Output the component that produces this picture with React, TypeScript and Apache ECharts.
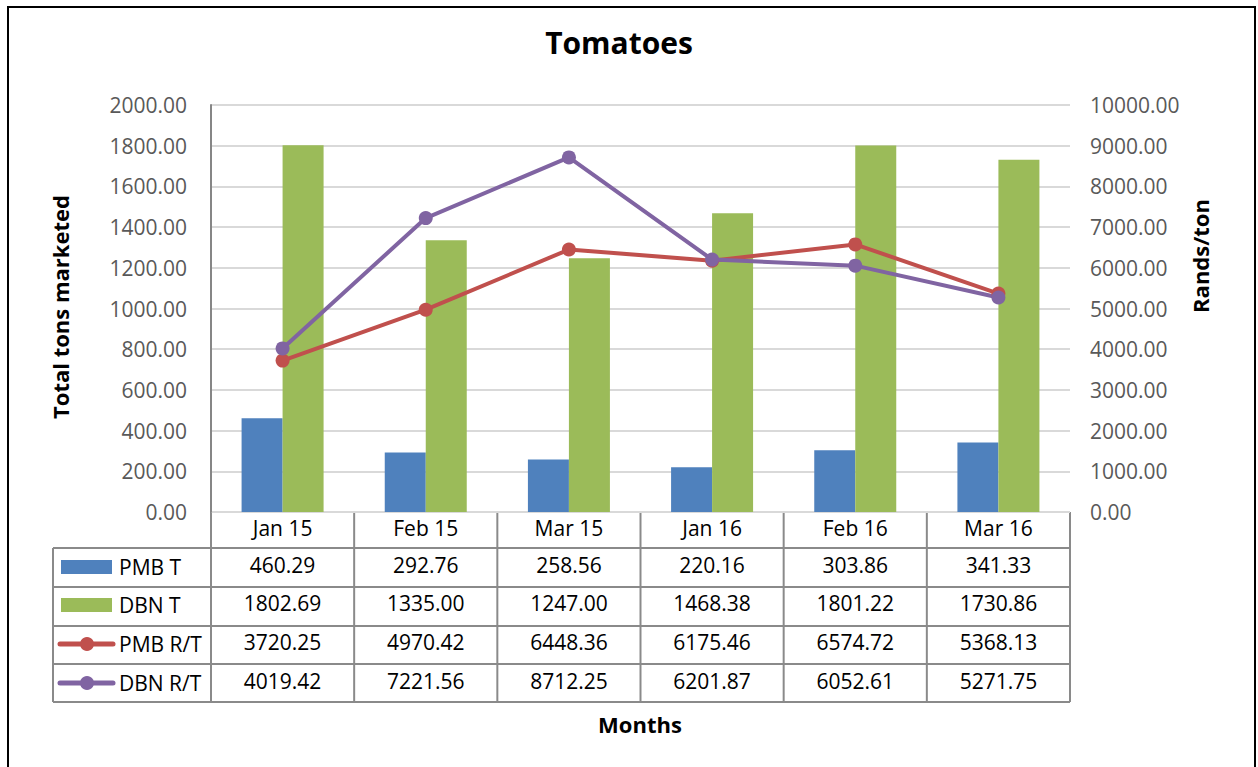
import React, { useEffect, useRef } from "react";
import * as echarts from "echarts";

const categories = ["Jan 15", "Feb 15", "Mar 15", "Jan 16", "Feb 16", "Mar 16"];
const pmbT = [460.29, 292.76, 258.56, 220.16, 303.86, 341.33];
const dbnT = [1802.69, 1335.0, 1247.0, 1468.38, 1801.22, 1730.86];
const pmbRT = [3720.25, 4970.42, 6448.36, 6175.46, 6574.72, 5368.13];
const dbnRT = [4019.42, 7221.56, 8712.25, 6201.87, 6052.61, 5271.75];
const seriesNames = ["PMB T", "DBN T", "PMB R/T", "DBN R/T"];

const BLUE = "#4F81BD";
const GREEN = "#9BBB59";
const RED = "#C0504D";
const PURPLE = "#8064A2";
const FONT = "'Open Sans', sans-serif";

const W = 1258;
const H = 767;
const GL = 211;
const GR = 1070;
const GT = 105;
const GB = 512;

export default function App() {
  const ref = useRef<HTMLDivElement>(null);
  useEffect(() => {
    if (!ref.current) return;
    const chart = echarts.init(ref.current, null, { renderer: "svg" });
    const rows = [pmbT, dbnT, pmbRT, dbnRT];
    const rowCenters = [567, 605, 644, 683];
    const headerCenter = 530;
    const fs = 21;
    const rowLines = [548, 587, 626, 664, 702];
    const catW = (GR - GL) / categories.length;
    const lineColor = "#8a8a8a";

    const extraAxes = rows.map((r, i) => ({
      type: "category",
      gridIndex: 0,
      position: "bottom",
      offset: rowCenters[i] - headerCenter,
      data: r.map((v) => v.toFixed(2)),
      axisLine: { show: false },
      axisTick: { show: false },
      axisLabel: { interval: 0, color: "#000", fontSize: fs, fontFamily: FONT, margin: 5 },
      splitLine: { show: false },
    }));

    const graphics: any[] = [
      {
        type: "rect",
        shape: { x: 8, y: 7, width: 1247, height: 800 },
        style: { fill: "none", stroke: "#000", lineWidth: 2 },
        z: -10,
      },
      {
        type: "text",
        x: 619,
        y: 42,
        style: {
          text: "Tomatoes",
          font: `bold 30px ${FONT}`,
          fill: "#000",
          textAlign: "center",
          textVerticalAlign: "middle",
        },
      },
      {
        type: "text",
        x: 640,
        y: 724,
        style: {
          text: "Months",
          font: `bold 22px ${FONT}`,
          fill: "#000",
          textAlign: "center",
          textVerticalAlign: "middle",
        },
      },
      {
        type: "text",
        x: 60,
        y: 307,
        rotation: Math.PI / 2,
        style: {
          text: "Total tons marketed",
          font: `bold 22px ${FONT}`,
          fill: "#000",
          textAlign: "center",
          textVerticalAlign: "middle",
        },
      },
      {
        type: "text",
        x: 1200,
        y: 256,
        rotation: Math.PI / 2,
        style: {
          text: "Rands/ton",
          font: `bold 22px ${FONT}`,
          fill: "#000",
          textAlign: "center",
          textVerticalAlign: "middle",
        },
      },
    ];
    graphics.push({
      type: "line",
      shape: { x1: GL, y1: GB, x2: GR, y2: GB },
      style: { stroke: lineColor, lineWidth: 2 },
    });
    rowLines.forEach((y) =>
      graphics.push({
        type: "line",
        shape: { x1: 53, y1: y, x2: GR, y2: y },
        style: { stroke: lineColor, lineWidth: 2 },
      })
    );
    for (let i = 0; i <= categories.length; i++) {
      const x = GL + i * catW;
      graphics.push({
        type: "line",
        shape: { x1: x, y1: GB, x2: x, y2: 702 },
        style: { stroke: lineColor, lineWidth: 2 },
      });
    }
    graphics.push({
      type: "line",
      shape: { x1: 53, y1: 548, x2: 53, y2: 702 },
      style: { stroke: lineColor, lineWidth: 2 },
    });
    const keyColors = [BLUE, GREEN, RED, PURPLE];
    seriesNames.forEach((n, i) => {
      const y = rowCenters[i];
      if (i < 2) {
        graphics.push({
          type: "rect",
          shape: { x: 61, y: y - 7, width: 51, height: 14 },
          style: { fill: keyColors[i] },
        });
      } else {
        graphics.push({
          type: "line",
          shape: { x1: 60, y1: y, x2: 113, y2: y },
          style: { stroke: keyColors[i], lineWidth: 5, lineCap: "round" },
        });
        graphics.push({
          type: "circle",
          shape: { cx: 87, cy: y, r: 7 },
          style: { fill: keyColors[i] },
        });
      }
      graphics.push({
        type: "text",
        x: 119,
        y: y,
        style: {
          text: n,
          font: `${fs}px ${FONT}`,
          fill: "#000",
          textAlign: "left",
          textVerticalAlign: "middle",
        },
      });
    });

    chart.setOption({
      animation: false,
      backgroundColor: "#fff",
      grid: { left: GL, right: W - GR, top: GT, bottom: H - GB, containLabel: false },
      xAxis: [
        {
          type: "category",
          data: categories,
          position: "bottom",
          axisLine: { show: false },
          axisTick: { show: false },
          axisLabel: { interval: 0, color: "#000", fontSize: fs, fontFamily: FONT, margin: 5 },
        },
        ...extraAxes,
      ],
      yAxis: [
        {
          type: "value",
          min: 0,
          max: 2000,
          interval: 200,
          axisLine: { show: true, lineStyle: { color: "#868686", width: 2 } },
          axisTick: { show: false },
          axisLabel: {
            formatter: (v: number) => v.toFixed(2),
            color: "#595959",
            fontSize: fs,
            fontFamily: FONT,
            margin: 24,
          },
          splitLine: { lineStyle: { color: "#D9D9D9", width: 2 } },
        },
        {
          type: "value",
          min: 0,
          max: 10000,
          interval: 1000,
          position: "right",
          axisLine: { show: false },
          axisTick: { show: false },
          axisLabel: {
            formatter: (v: number) => v.toFixed(2),
            color: "#595959",
            fontSize: fs,
            fontFamily: FONT,
            margin: 20,
          },
          splitLine: { show: false },
        },
      ],
      graphic: graphics,
      series: [
        {
          name: seriesNames[0],
          type: "bar",
          data: pmbT,
          yAxisIndex: 0,
          barWidth: 41,
          barGap: "0%",
          itemStyle: { color: BLUE },
        },
        {
          name: seriesNames[1],
          type: "bar",
          data: dbnT,
          yAxisIndex: 0,
          barWidth: 41,
          barGap: "0%",
          itemStyle: { color: GREEN },
        },
        {
          name: seriesNames[2],
          type: "line",
          data: pmbRT,
          yAxisIndex: 1,
          symbol: "circle",
          symbolSize: 14,
          lineStyle: { color: RED, width: 4 },
          itemStyle: { color: RED },
        },
        {
          name: seriesNames[3],
          type: "line",
          data: dbnRT,
          yAxisIndex: 1,
          symbol: "circle",
          symbolSize: 14,
          lineStyle: { color: PURPLE, width: 4 },
          itemStyle: { color: PURPLE },
        },
      ],
    });
    return () => chart.dispose();
  }, []);
  return (
    <div
      ref={ref}
      style={{ position: "absolute", left: 0, top: 0, width: W, height: H, background: "#fff" }}
    />
  );
}
